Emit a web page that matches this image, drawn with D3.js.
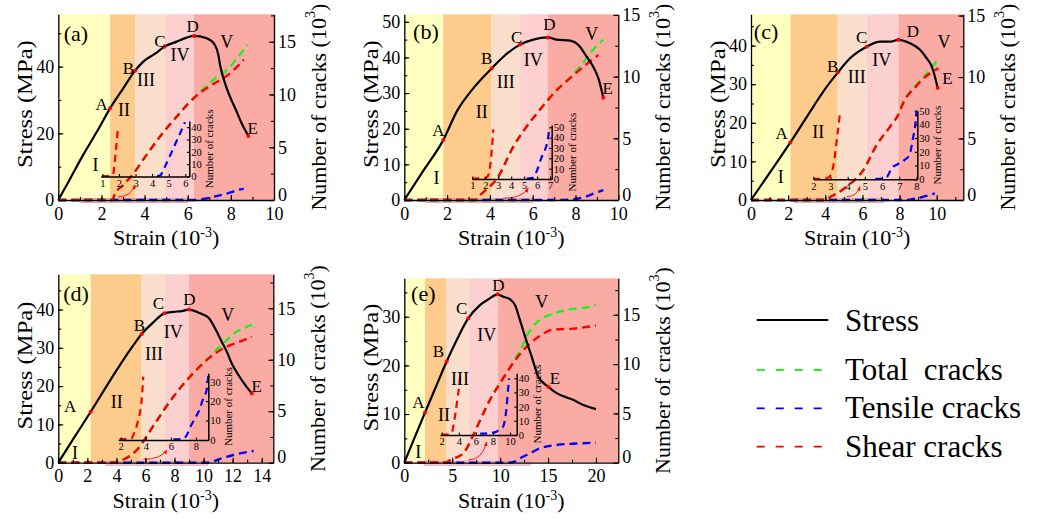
<!DOCTYPE html>
<html><head><meta charset="utf-8">
<script src="https://cdn.jsdelivr.net/npm/d3@7"></script>
<style>
body{margin:0;background:#fff;}
svg{display:block;}
text{white-space:pre;}
</style></head><body>
<svg id="c" width="1043" height="522" font-family="Liberation Serif"></svg>
<script>
// ================= DATA =================
// Panel (a)
const stressA = [[0,0],[0.5,5.8],[1.16,13.6],[1.8,20.6],[2.40,27.5],[3.01,33.5],[3.56,38.8],[3.94,41.5],[4.56,44.2],[4.92,46.0],[5.49,47.5],[5.95,48.7],[6.29,49.2],[6.88,48.5],[7.26,46.5],[7.42,43.5],[7.5,40.5],[7.73,35.0],[7.96,31.0],[8.27,26.5],[8.5,23.0],[8.81,19.2]];
const keyPointsA = [[2.40,27.5],[3.56,38.8],[4.92,46.0],[6.29,49.2],[8.81,19.2]];
const shearA = [[0,0],[2.5,0],[2.63,0.6],[3.0,1.4],[3.48,2.5],[4.1,4.3],[4.71,6.0],[5.49,7.9],[6.1,9.3],[6.6,10.2],[7.19,11.0],[7.96,12.0],[8.6,13.3]];
const totalA = [[0,0],[2.5,0],[2.63,0.6],[3.0,1.4],[3.48,2.5],[4.1,4.3],[4.71,6.0],[5.49,7.9],[6.1,9.3],[6.6,10.3],[7.19,11.4],[7.96,12.6],[8.42,13.8],[8.78,14.7]];
const tensileA = [[0,0],[6.3,0],[6.8,0.12],[7.19,0.3],[7.96,0.7],[8.42,1.0],[8.6,1.05]];
const insetShearA = [[1,0.3],[1.55,0.5],[1.65,2],[1.75,12],[1.85,26],[1.95,41]];
const insetTensileA = [[4.3,0.3],[4.5,1],[4.7,6],[4.98,14],[5.25,22],[5.48,29],[5.75,37],[5.98,44]];
const xTicksA = [0,2,4,6,8,10], stressTicksA = [0,20,40], crackTicksA = [0,5,10,15];
const insetXTicksA = [1,2,3,4,5,6], insetYTicksA = [0,10,20,30,40];

// Panel (b)
const stressB = [[0,0],[0.9,8.3],[1.82,16.8],[2.45,24.8],[3.22,31.3],[4.08,36.9],[4.63,40.2],[5.41,43.6],[6.03,45.0],[6.70,45.6],[7.12,45.0],[7.75,44.7],[8.21,43.0],[8.52,40.2],[8.83,37.4],[9.07,34.1],[9.30,28.7]];
const keyPointsB = [[1.82,16.8],[4.08,36.9],[5.41,43.6],[6.70,45.6],[9.30,28.7]];
const shearB = [[0,0],[3.3,0],[3.54,0.4],[3.8,0.8],[4.32,1.7],[5.09,4.3],[5.49,5.4],[6.19,7.0],[7.12,8.9],[7.9,10.1],[8.37,10.8],[9.07,11.75]];
const totalB = [[0,0],[3.3,0],[3.54,0.4],[3.8,0.8],[4.32,1.7],[5.09,4.3],[5.49,5.4],[6.19,7.0],[7.12,8.9],[7.9,10.2],[8.3,11.0],[8.83,12.2],[9.3,13.0]];
const tensileB = [[0,0],[7.0,0],[7.9,0.06],[8.52,0.3],[8.9,0.55],[9.3,0.8]];
const insetShearB = [[1,0.5],[1.9,0.8],[2.15,2],[2.24,4],[2.37,12],[2.5,28],[2.62,48]];
const insetTensileB = [[5.2,0.3],[5.6,0.8],[5.84,4],[6.05,10],[6.23,17],[6.45,24],[6.69,31],[6.85,40],[6.95,50]];
const xTicksB = [0,2,4,6,8,10], stressTicksB = [0,10,20,30,40,50], crackTicksB = [0,5,10,15];
const insetXTicksB = [1,2,3,4,5,6,7], insetYTicksB = [0,10,20,30,40,50];

// Panel (c)
const stressC = [[0,0],[1.06,7.4],[2.12,14.9],[3.36,24.2],[3.89,28.1],[4.67,33.0],[5.33,36.7],[6.23,39.7],[6.95,41.0],[7.49,41.0],[7.93,41.5],[8.56,40.6],[9.1,38.9],[9.46,36.7],[9.73,34.6],[9.9,32.0],[10.05,29.0]];
const keyPointsC = [[2.12,14.9],[4.67,33.0],[6.23,39.7],[7.93,41.5],[10.05,29.0]];
const shearC = [[0,0],[4.0,0],[4.25,0.22],[5.15,1.08],[6.05,2.44],[6.77,4.48],[7.49,5.97],[7.93,6.93],[8.2,7.9],[8.92,9.3],[9.46,10.1],[10.09,10.7]];
const totalC = [[0,0],[4.0,0],[4.25,0.22],[5.15,1.08],[6.05,2.44],[6.77,4.48],[7.49,5.97],[7.93,6.95],[8.2,7.95],[8.92,9.4],[9.28,9.95],[9.9,11.1],[10.0,11.3]];
const tensileC = [[0,0],[8.3,0],[8.8,0.1],[9.28,0.27],[9.9,0.54]];
const insetShearC = [[2,0.3],[2.6,0.5],[2.9,1.5],[3.0,3],[3.17,10],[3.37,29],[3.55,48]];
const insetTensileC = [[5.6,0.3],[6.0,0.5],[6.3,2],[6.55,8],[6.9,11],[7.3,14],[7.6,18],[7.8,30],[7.95,42],[8.0,50]];
const xTicksC = [0,2,4,6,8,10], stressTicksC = [0,10,20,30,40], crackTicksC = [0,5,10,15];
const insetXTicksC = [2,3,4,5,6,7,8], insetYTicksC = [0,10,20,30,40,50];

// Panel (d)
const stressD = [[0,0],[1.1,6.6],[2.23,13.3],[4.02,24.2],[5.17,30.7],[5.74,33.6],[6.5,36.5],[7.3,39.0],[7.92,39.4],[8.5,39.6],[9.0,40.0],[9.76,39.0],[10.33,37.9],[10.79,35.1],[11.25,31.6],[11.6,29.0],[11.94,25.9],[12.4,22.9],[12.86,20.3],[13.32,18.1]];
const keyPointsD = [[2.23,13.3],[5.74,33.6],[7.3,39.0],[9.0,40.0],[13.32,18.1]];
const shearD = [[0,0],[3.9,0],[4.13,0.1],[5.4,1.23],[6.66,3.83],[7.92,6.41],[9.07,8.36],[10.22,9.98],[11.0,10.8],[11.6,11.27],[12.5,11.76],[13.32,12.25]];
const totalD = [[0,0],[3.9,0],[4.13,0.1],[5.4,1.23],[6.66,3.83],[7.92,6.41],[9.07,8.36],[10.22,10.0],[10.9,11.0],[11.6,11.9],[12.05,12.5],[12.8,13.1],[13.45,13.45]];
const tensileD = [[0,0],[10.4,0],[10.9,0.26],[12.05,0.75],[13.45,1.14]];
const insetShearD = [[1.9,0.3],[2.7,0.5],[2.88,1],[3.15,5],[3.4,10.3],[3.67,20.6],[3.8,32.6]];
const insetTensileD = [[6.2,0.3],[7.0,0.6],[7.3,3],[7.5,6],[8.0,12],[8.3,16],[8.5,20],[8.85,26],[8.98,33]];
const xTicksD = [0,2,4,6,8,10,12,14], stressTicksD = [0,10,20,30,40], crackTicksD = [0,5,10,15];
const insetXTicksD = [2,4,6,8], insetYTicksD = [0,10,20,30];

// Panel (e)
const stressE = [[0,0],[1.0,4.8],[2.16,10.3],[3.3,15.6],[4.42,20.8],[5.47,25.2],[6.68,29.7],[7.9,32.4],[8.8,33.6],[9.74,34.6],[10.33,34.1],[11.03,33.6],[11.55,32.4],[12.07,29.3],[12.6,25.9],[13.29,21.8],[13.98,17.7],[15.03,15.6],[15.9,14.3],[16.95,13.4],[17.65,12.9],[18.5,12.0],[19.03,11.6],[20.0,11.0]];
const keyPointsE = [[2.16,10.3],[4.42,20.8],[6.68,29.7],[9.74,34.6],[15.03,15.6]];
const shearE = [[0,0],[4.3,0],[4.77,0.27],[6.16,0.95],[7.2,2.8],[8.24,5.0],[8.94,6.37],[9.99,8.06],[11.73,10.6],[13.12,12.1],[14.2,12.9],[15.55,13.5],[17.64,13.6],[20.0,13.9]];
const totalE = [[0,0],[4.3,0],[4.77,0.27],[6.16,0.95],[7.2,2.8],[8.24,5.0],[8.94,6.4],[9.99,8.1],[11.2,9.9],[11.73,10.8],[12.3,11.8],[12.77,12.8],[13.4,13.8],[14.16,14.5],[15.2,15.0],[16.95,15.5],[18.68,15.7],[20,16.0]];
const tensileE = [[0,0],[10.8,0],[11.5,0.1],[12.07,0.44],[13.12,0.95],[14.16,1.46],[15.9,1.8],[18,1.95],[20,2.03]];
const insetShearE = [[2,0.3],[2.9,0.5],[3.2,2],[3.36,6],[3.6,15],[3.85,26],[4.06,35],[4.15,41]];
const insetTensileE = [[6.5,1],[7.5,1.3],[8.3,2],[8.8,4],[9.2,6],[9.6,20],[9.8,34],[9.9,40]];
const xTicksE = [0,5,10,15,20], stressTicksE = [0,10,20,30], crackTicksE = [0,5,10,15];
const insetXTicksE = [2,4,6,8,10], insetYTicksE = [0,10,20,30,40];

const pointNames = ['A','B','C','D','E'];
const stageNames = ['I','II','III','IV','V'];
const legendNames = ['Stress','Total  cracks','Tensile cracks','Shear cracks'];

// ================= LAYOUT =================
const FONT = "Liberation Serif";
const stageColors = ['#ffffc0','#fdcc8c','#f9dfcb','#fdd0d0','#f9aba4'];
const cGreen = '#22ee22', cBlue = '#0000ff', cRed = '#ff0000';

const panels = [
 {name:'(a)', px:[58.3,274], py:[200,14.3], xDom:[0,10], sDom:[0,55.7], cDom:[0,17.6], xMinor:1, sMinor:10, cMinor:2.5,
  stress:stressA, keys:keyPointsA, shear:shearA, total:totalA, tensile:tensileA,
  xTicks:xTicksA, sTicks:stressTicksA, cTicks:crackTicksA,
  inset:{px:[100.7,189.3], py:[176.5,121], xDom:[0.9,6.24], yDom:[0,45], xTicks:insetXTicksA, yTicks:insetYTicksA, shear:insetShearA, tensile:insetTensileA},
  zoom:[1,6], arrow:[[2.78,0.31],[3.56,1.42]],
  tag:[0.82,50.0], keyLab:[[2.01,28.5],[3.25,39.5],[4.71,47.5],[6.23,52.0],[9.01,21.5]],
  stageLab:[[1.73,10.5],[3.05,27.0],[4.07,36.0],[5.64,43.5],[7.81,47.5]]},
 {name:'(b)', px:[404.3,618.3], py:[200,14.3], xDom:[0,10], sDom:[0,52.1], cDom:[0,15.05], xMinor:1, sMinor:5, cMinor:2.5,
  stress:stressB, keys:keyPointsB, shear:shearB, total:totalB, tensile:tensileB,
  xTicks:xTicksB, sTicks:stressTicksB, cTicks:crackTicksB,
  inset:{px:[471.7,551.7], py:[179,125], xDom:[0.95,7.13], yDom:[0,52.2], xTicks:insetXTicksB, yTicks:insetYTicksB, shear:insetShearB, tensile:insetTensileB},
  zoom:[1,6], arrow:[[4.63,0.14],[5.79,0.95]],
  tag:[1.01,47.2], keyLab:[[1.59,19.6],[3.85,39.7],[5.25,45.6],[6.78,49.1],[9.5,31.3]],
  stageLab:[[1.51,6.1],[3.62,24.8],[4.74,33.2],[6.03,39.2],[8.76,46.7]]},
 {name:'(c)', px:[751,963.3], py:[200,14.3], xDom:[0,11.43], sDom:[0,48.1], cDom:[0,15.1], xMinor:1, sMinor:5, cMinor:2.5,
  stress:stressC, keys:keyPointsC, shear:shearC, total:totalC, tensile:tensileC,
  xTicks:xTicksC, sTicks:stressTicksC, cTicks:crackTicksC,
  inset:{px:[813.3,917.3], py:[179.3,110.7], xDom:[2,8.05], yDom:[0,50], xTicks:insetXTicksC, yTicks:insetYTicksC, shear:insetShearC, tensile:insetTensileC},
  zoom:[2.3,7.1], arrow:[[5.15,0.27],[5.87,1.08]],
  tag:[0.81,43.6], keyLab:[[1.65,17.3],[4.4,34.7],[5.96,42.2],[8.71,43.6],[10.57,31.5]],
  stageLab:[[1.6,6.0],[3.62,17.5],[5.69,31.8],[7.04,36.3],[10.39,41.0]]},
 {name:'(d)', px:[58.3,273.3], py:[462.7,274.3], xDom:[0,14.8], sDom:[0,49.2], cDom:[0,18.3], xMinor:1, sMinor:5, cMinor:2.5,
  stress:stressD, keys:keyPointsD, shear:shearD, total:totalD, tensile:tensileD,
  xTicks:xTicksD, sTicks:stressTicksD, cTicks:crackTicksD,
  inset:{px:[118.3,208.3], py:[440,373.3], xDom:[1.81,8.98], yDom:[0,34.3], xTicks:insetXTicksD, yTicks:insetYTicksD, shear:insetShearD, tensile:insetTensileD},
  zoom:[3.3,10.3], arrow:[[5.85,0.33],[7.47,1.23]],
  tag:[1.22,44.2], keyLab:[[0.81,14.6],[5.58,35.9],[6.89,41.6],[9.02,42.7],[13.66,19.8]],
  stageLab:[[1.15,2.6],[4.02,15.9],[6.59,28.4],[7.92,34.2],[11.67,38.5]]},
 {name:'(e)', px:[404.3,618.3], py:[462.7,278.3], xDom:[0,22.33], sDom:[0,37.9], cDom:[0,18.7], xMinor:2.5, sMinor:5, cMinor:2.5,
  stress:stressE, keys:keyPointsE, shear:shearE, total:totalE, tensile:tensileE,
  xTicks:xTicksE, sTicks:stressTicksE, cTicks:crackTicksE,
  inset:{px:[440,516.7], py:[435,373.3], xDom:[1.8,10.78], yDom:[0,43.5], xTicks:insetXTicksE, yTicks:insetYTicksE, shear:insetShearE, tensile:insetTensileE},
  zoom:[2.09,13.1], arrow:[[6.68,0.27],[8.6,2.1]],
  tag:[1.98,34.8], keyLab:[[1.46,12.3],[3.55,22.8],[5.99,31.7],[9.81,36.5],[15.73,17.3]],
  stageLab:[[1.46,2.3],[4.14,9.8],[5.81,17.3],[8.6,26.2],[14.34,33.1]]}
];

const svg = d3.select('#c');
const defs = svg.append('defs');
defs.append('marker').attr('id','arr').attr('viewBox','0 0 10 10').attr('refX',9).attr('refY',5)
  .attr('markerWidth',5).attr('markerHeight',5).attr('orient','auto')
  .append('path').attr('d','M0,1 L10,5 L0,9 z').attr('fill',cRed);

function styleAxis(a, fs){
  a.attr('font-family', FONT).attr('font-size', fs);
  a.selectAll('text').attr('font-size', fs).attr('fill','#000').attr('font-family', FONT);
  a.selectAll('line').attr('stroke','#000').attr('stroke-width',1.1);
  a.select('.domain').attr('stroke','#000').attr('stroke-width',1.3);
}
function minorVals(dom, step){ const v=[]; for(let t=dom[0]; t<=dom[1]+1e-9; t+=step) v.push(+t.toFixed(4)); return v; }
function txt(g){ return g.append('text').attr('font-family', FONT); }
const fmt = d3.format('d');

panels.forEach(p => {
  const g = svg.append('g');
  const x = d3.scaleLinear().domain(p.xDom).range(p.px);
  const yS = d3.scaleLinear().domain(p.sDom).range(p.py);
  const yC = d3.scaleLinear().domain(p.cDom).range(p.py);
  const top = p.py[1], bot = p.py[0];

  // stage bands
  const b = [p.xDom[0], ...p.keys.slice(0,4).map(k=>k[0]), p.xDom[1]];
  for(let i=0;i<5;i++){
    g.append('rect').attr('x',x(b[i])).attr('y',top).attr('width',x(b[i+1])-x(b[i])).attr('height',bot-top).attr('fill',stageColors[i]);
  }
  // zoom range rectangle
  g.append('rect').attr('x',x(p.zoom[0])).attr('width',x(p.zoom[1])-x(p.zoom[0])).attr('y',bot-1.5).attr('height',4)
    .attr('fill','rgba(200,200,215,0.6)').attr('stroke','#f29a9a').attr('stroke-width',0.9);

  // main crack curves
  const lc = d3.line().x(d=>x(d[0])).y(d=>yC(d[1])).curve(d3.curveMonotoneX);
  [[p.total,cGreen],[p.tensile,cBlue],[p.shear,cRed]].forEach(([d,c])=>{
    g.append('path').attr('d',lc(d)).attr('fill','none').attr('stroke',c).attr('stroke-width',2.4).attr('stroke-dasharray','8,5');
  });

  // inset
  const ins = p.inset;
  const ix = d3.scaleLinear().domain(ins.xDom).range(ins.px);
  const iy = d3.scaleLinear().domain(ins.yDom).range(ins.py);
  const li = d3.line().x(d=>ix(d[0])).y(d=>iy(d[1])).curve(d3.curveMonotoneX);
  [[ins.shear,cRed],[ins.tensile,cBlue]].forEach(([d,c])=>{
    g.append('path').attr('d',li(d)).attr('fill','none').attr('stroke',c).attr('stroke-width',2.2).attr('stroke-dasharray','7,5');
  });
  const iax = g.append('g').attr('transform',`translate(0,${ins.py[0]})`)
    .call(d3.axisBottom(ix).tickValues(ins.xTicks).tickFormat(fmt).tickSize(-2.5).tickSizeOuter(0).tickPadding(3));
  styleAxis(iax, 10.5);
  const iay = g.append('g').attr('transform',`translate(${ins.px[1]},0)`)
    .call(d3.axisRight(iy).tickValues(ins.yTicks).tickFormat(fmt).tickSize(-2.5).tickSizeOuter(0).tickPadding(2));
  styleAxis(iay, 10.5);
  iax.select('.domain').attr('stroke-width',1.5); iay.select('.domain').attr('stroke-width',1.5);
  txt(g).attr('transform',`translate(${ins.px[1]+20},${(ins.py[0]+ins.py[1])/2}) rotate(-90)`)
    .attr('text-anchor','middle').attr('dominant-baseline','central').attr('font-size',11).text('Number of cracks');

  // arrow
  const a0=[x(p.arrow[0][0]), yC(p.arrow[0][1])], a1=[x(p.arrow[1][0]), yC(p.arrow[1][1])];
  g.append('path').attr('d',`M${a0[0]},${a0[1]} Q${a0[0]+0.75*(a1[0]-a0[0])},${a0[1]} ${a1[0]},${a1[1]}`)
    .attr('fill','none').attr('stroke',cRed).attr('stroke-width',0.9).attr('marker-end','url(#arr)');

  // stress curve
  const ls = d3.line().x(d=>x(d[0])).y(d=>yS(d[1])).curve(d3.curveMonotoneX);
  g.append('path').attr('d',ls(p.stress)).attr('fill','none').attr('stroke','#000').attr('stroke-width',2.2);
  g.selectAll(null).data(p.keys).enter().append('circle').attr('cx',d=>x(d[0])).attr('cy',d=>yS(d[1])).attr('r',2).attr('fill',cRed);

  // labels
  txt(g).attr('x',x(p.tag[0])).attr('y',yS(p.tag[1])).attr('text-anchor','middle').attr('dominant-baseline','central').attr('font-size',22).text(p.name);
  p.keyLab.forEach((d,i)=> txt(g).attr('x',x(d[0])).attr('y',yS(d[1])).attr('text-anchor','middle').attr('dominant-baseline','central').attr('font-size',17).text(pointNames[i]));
  p.stageLab.forEach((d,i)=> txt(g).attr('x',x(d[0])).attr('y',yS(d[1])).attr('text-anchor','middle').attr('dominant-baseline','central').attr('font-size',18).text(stageNames[i]));

  // axes
  const ax = g.append('g').attr('transform',`translate(0,${bot})`)
    .call(d3.axisBottom(x).tickValues(p.xTicks).tickFormat(fmt).tickSize(-5).tickSizeOuter(0).tickPadding(7));
  styleAxis(ax, 18);
  const axm = g.append('g').attr('transform',`translate(0,${bot})`)
    .call(d3.axisBottom(x).tickValues(minorVals(p.xDom,p.xMinor)).tickSize(-3).tickSizeOuter(0).tickFormat(''));
  styleAxis(axm, 18); axm.select('.domain').remove();
  const ayl = g.append('g').attr('transform',`translate(${p.px[0]},0)`)
    .call(d3.axisLeft(yS).tickValues(p.sTicks).tickFormat(fmt).tickSize(-5).tickSizeOuter(0).tickPadding(4));
  styleAxis(ayl, 18);
  const aylm = g.append('g').attr('transform',`translate(${p.px[0]},0)`)
    .call(d3.axisLeft(yS).tickValues(minorVals(p.sDom,p.sMinor)).tickSize(-3).tickSizeOuter(0).tickFormat(''));
  styleAxis(aylm, 18); aylm.select('.domain').remove();
  const ayr = g.append('g').attr('transform',`translate(${p.px[1]},0)`)
    .call(d3.axisRight(yC).tickValues(p.cTicks).tickFormat(fmt).tickSize(-5).tickSizeOuter(0).tickPadding(4));
  styleAxis(ayr, 18);
  ayr.selectAll('.tick text').filter(d=>d===0).attr('dy','0em');
  const ayrm = g.append('g').attr('transform',`translate(${p.px[1]},0)`)
    .call(d3.axisRight(yC).tickValues(minorVals(p.cDom,p.cMinor)).tickSize(-3).tickSizeOuter(0).tickFormat(''));
  styleAxis(ayrm, 18); ayrm.select('.domain').remove();

  // axis titles
  const xt = txt(g).attr('x',(p.px[0]+p.px[1])/2).attr('y',bot+45).attr('text-anchor','middle').attr('font-size',22);
  xt.append('tspan').text('Strain (10');
  xt.append('tspan').attr('dy',-8).attr('font-size',14).text('-3');
  xt.append('tspan').attr('dy',8).text(')');
  const cy = (top+bot)/2;
  txt(g).attr('transform',`translate(${p.px[0]-34},${cy-3}) rotate(-90) scale(1.12,1)`)
    .attr('text-anchor','middle').attr('dominant-baseline','central').attr('font-size',22).text('Stress (MPa)');
  const rt = txt(g).attr('transform',`translate(${p.px[1]+44},${cy}) rotate(-90)`)
    .attr('text-anchor','middle').attr('dominant-baseline','central').attr('font-size',22);
  rt.append('tspan').text('Number of cracks (10');
  rt.append('tspan').attr('dy',-8).attr('font-size',14).text('3');
  rt.append('tspan').attr('dy',8).text(')');
});

// legend
const lg = svg.append('g');
const legY = [320, 370, 408.3, 446.7];
const legBase = [331, 380, 418, 457];
const legCol = ['#000', cGreen, cBlue, cRed];
legendNames.forEach((n,i)=>{
  lg.append('line').attr('x1',756.7).attr('x2',828.3).attr('y1',legY[i]).attr('y2',legY[i])
    .attr('stroke',legCol[i]).attr('stroke-width',i===0?2:1.8).attr('stroke-dasharray', i===0?null:'8,11');
  txt(lg).attr('x',845).attr('y',legBase[i]).attr('font-size',31).text(n);
});
</script>
</body></html>
